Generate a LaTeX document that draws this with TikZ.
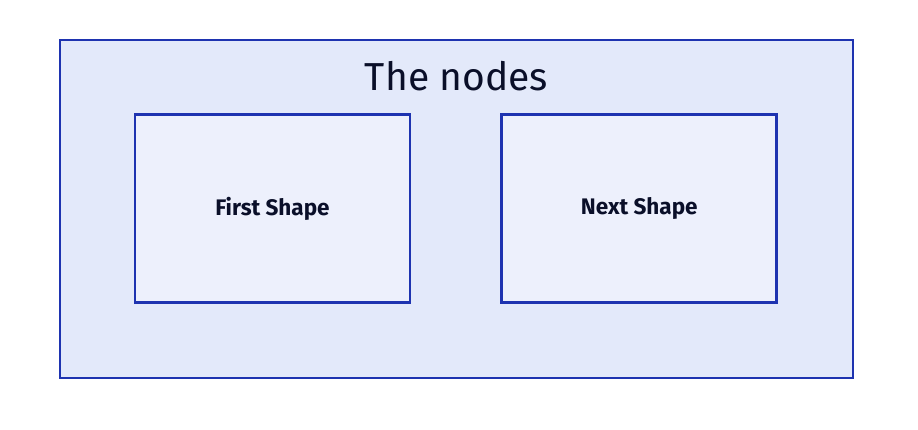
\documentclass[tikz,border=0pt]{standalone}
\usepackage{fontspec}
\setmainfont{Fira Sans}
\usepackage{xcolor}
\usetikzlibrary{positioning}
\definecolor{frameblue}{HTML}{1E33B0}
\definecolor{outerfill}{HTML}{E3E9FA}
\definecolor{innerfill}{HTML}{EDF0FC}
\definecolor{inkdark}{HTML}{0A0F29}
\tikzset{
    groupbox/.style={draw=frameblue, fill=outerfill, line width=2.8pt, minimum width=793pt, minimum height=338pt, inner sep=0pt},
    shapebox/.style={draw=frameblue, fill=innerfill, line width=2.8pt, minimum width=275pt, minimum height=188pt, inner sep=0pt,
        text=inkdark, font=\fontsize{22.5}{26}\selectfont\bfseries}
}
\begin{document}
\begin{tikzpicture}[x=1pt, y=-1pt]
    \useasboundingbox (0,0) rectangle (918,430);
    \node [groupbox] (group) at (456.5,209) {};
    \node [text=inkdark, font=\fontsize{39}{44}\selectfont] (title) at (456.5,76) {The nodes};

    \node [shapebox] (first) at (272.5,208.5) {First Shape};
    \node [shapebox, right=89pt of first] (next) {Next Shape};
\end{tikzpicture}
\end{document}
